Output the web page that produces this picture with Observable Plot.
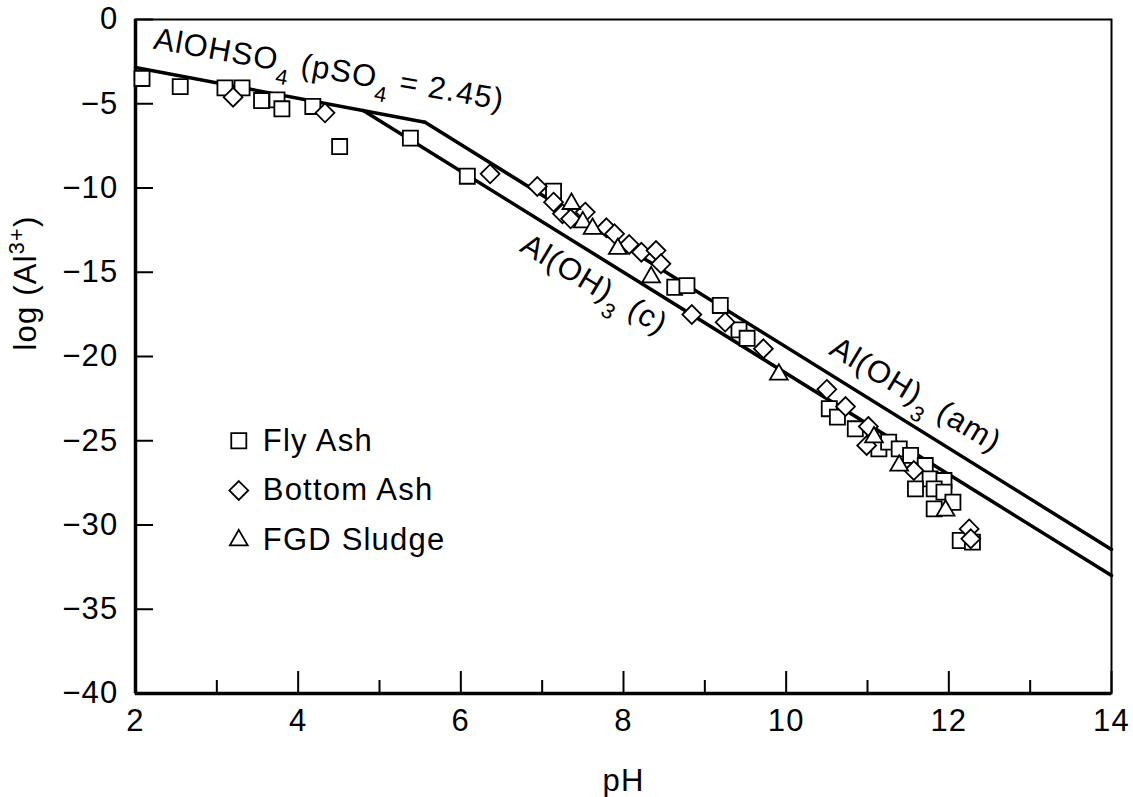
<!DOCTYPE html>
<html><head><meta charset="utf-8">
<script src="https://cdn.jsdelivr.net/npm/d3@7"></script>
<script src="https://cdn.jsdelivr.net/npm/@observablehq/plot@0.6"></script>
<style>
html,body{margin:0;padding:0;background:#fff;overflow:hidden;}
#chart svg text{letter-spacing:1.2px;}
</style></head><body><div id="chart"></div>
<script>
// ---- data ----
const flyAshPH  = [2.08, 2.55, 3.10, 3.31, 3.55, 3.74, 3.80, 4.18, 4.51, 5.38, 6.08, 7.14, 8.63, 8.78, 9.19, 9.42, 9.52, 10.53, 10.63, 10.85, 11.14, 11.26, 11.39, 11.53, 11.71, 11.77, 11.94, 11.59, 11.82, 11.94, 12.05, 11.82, 12.14, 12.29];
const flyAshLog = [-3.5, -3.98, -4.06, -4.06, -4.81, -4.77, -5.30, -5.16, -7.54, -7.04, -9.30, -10.19, -15.89, -15.79, -16.97, -18.42, -18.92, -23.1, -23.6, -24.29, -25.48, -25.08, -25.48, -25.87, -26.47, -27.26, -27.36, -27.86, -27.86, -28.05, -28.65, -29.04, -30.92, -31.02];
const bottomAshPH  = [3.20, 4.33, 6.36, 6.94, 7.14, 7.25, 7.53, 7.35, 7.79, 7.89, 8.07, 8.22, 8.40, 8.46, 8.84, 9.25, 9.72, 10.50, 10.73, 11.01, 10.99, 11.57, 12.25, 12.27];
const bottomAshLog = [-4.61, -5.54, -9.16, -9.91, -10.84, -11.53, -11.43, -11.83, -12.36, -12.72, -13.35, -13.81, -13.71, -14.50, -17.51, -17.96, -19.54, -21.95, -22.97, -24.15, -25.28, -26.77, -30.23, -30.82];
const fgdPH  = [7.36, 7.50, 7.62, 7.93, 8.34, 9.91, 11.08, 11.39, 11.96];
const fgdLog = [-10.94, -12.03, -12.42, -13.61, -15.29, -21.07, -24.79, -26.47, -29.14];

const phaseNames = ["AlOHSO4", "Al(OH)3 (am)", "Al(OH)3 (c)"];
const phasePH  = [[2, 5.56], [5.56, 14], [4.8, 14]];
const phaseLog = [[-2.85, -6.1], [-6.1, -31.45], [-5.4, -33.0]];

const curveLabels = ["AlOHSO_{4} (pSO_{4} = 2.45)", "Al(OH)_{3} (c)", "Al(OH)_{3} (am)"];
const curveLabelPH  = [2.21, 6.71, 10.51];
const curveLabelLog = [-1.72, -13.71, -19.82];
const curveLabelAngle = [10, 31, 31];

const legendNames = ["Fly Ash", "Bottom Ash", "FGD Sludge"];
const legendSymbols = ["square", "diamond2", "triangle2"];

const xTicksMajor = [2, 4, 6, 8, 10, 12, 14];
const xTicksMinor = [3, 5, 7, 9, 11, 13];
const yTicks = [0, -5, -10, -15, -20, -25, -30, -35, -40];

// ---- derived tables ----
const fly = flyAshPH.map((p, i) => ({pH: p, log: flyAshLog[i]}));
const bottom = bottomAshPH.map((p, i) => ({pH: p, log: bottomAshLog[i]}));
const fgd = fgdPH.map((p, i) => ({pH: p, log: fgdLog[i]}));
const lineRows = phaseNames.flatMap((n, i) => phasePH[i].map((p, j) => ({phase: n, pH: p, log: phaseLog[i][j]})));
const labelRows = curveLabels.map((t, i) => ({t, pH: curveLabelPH[i], log: curveLabelLog[i], a: curveLabelAngle[i]}));
const legendRows = legendNames.map((n, i) => ({n, s: legendSymbols[i], pH: 3.27, log: -25 - i * 2.95}));

const dotStyle = {stroke: "black", fill: "white", strokeWidth: 1.8, r: 8.5};

const chart = Plot.plot({
  width: 1133, height: 797,
  marginLeft: 135, marginRight: 22, marginTop: 19, marginBottom: 104,
  style: {fontFamily: "'Liberation Sans', Arial, sans-serif", fontSize: "31px", color: "black", background: "white"},
  x: {domain: [2, 14]},
  y: {domain: [-40, 0]},
  marks: [
    Plot.axisY(yTicks, {tickSize: -18, tickPadding: 35, strokeWidth: 2, label: null}),
    Plot.axisX(xTicksMajor, {tickSize: -22, tickPadding: 37, strokeWidth: 2, label: null}),
    Plot.axisX(xTicksMinor, {tickSize: -13, strokeWidth: 2, fill: "none", label: null}),
    Plot.frame({strokeWidth: 2}),
    Plot.ruleX([2], {strokeWidth: 3.5}),
    Plot.ruleY([-40], {strokeWidth: 3.5}),
    Plot.line(lineRows, {x: "pH", y: "log", z: "phase", stroke: "black", strokeWidth: 3.5}),
    Plot.dot(fly, {x: "pH", y: "log", symbol: "square", ...dotStyle}),
    Plot.dot(bottom, {x: "pH", y: "log", symbol: "diamond2", ...dotStyle}),
    Plot.dot(fgd, {x: "pH", y: "log", symbol: "triangle2", ...dotStyle}),
    Plot.text(labelRows, {x: "pH", y: "log", text: "t", rotate: "a", textAnchor: "start", lineAnchor: "bottom", fill: "black"}),
    Plot.dot(legendRows, {x: "pH", y: "log", symbol: "s", ...dotStyle}),
    Plot.text(legendRows, {x: "pH", y: "log", text: "n", dx: 24, textAnchor: "start", lineAnchor: "middle", fill: "black"}),
    Plot.text(["pH"], {frameAnchor: "bottom", dy: 97, lineAnchor: "bottom", fill: "black"}),
    Plot.text(["log (Al^{3+})"], {frameAnchor: "left", dx: -100, dy: -6, rotate: -90, lineAnchor: "bottom", fill: "black"})
  ]
});

// rich text: _{..} subscript, ^{..} superscript
const NS = "http://www.w3.org/2000/svg";
chart.querySelectorAll("text").forEach(el => {
  const targets = el.querySelector("tspan") ? el.querySelectorAll("tspan") : [el];
  targets.forEach(t => {
    const s = t.textContent;
    if (!/[_^]\{/.test(s)) return;
    t.textContent = "";
    const re = /([_^])\{([^}]*)\}/g;
    let last = 0, m;
    const fs = 31;
    while ((m = re.exec(s))) {
      const shift = m[1] === "_" ? 0.42 * fs : -0.38 * fs;
      if (m.index > last) t.appendChild(document.createTextNode(s.slice(last, m.index)));
      const sp = document.createElementNS(NS, "tspan");
      sp.setAttribute("dy", shift);
      sp.setAttribute("font-size", "70%");
      sp.textContent = m[2];
      t.appendChild(sp);
      last = re.lastIndex;
      const back = document.createElementNS(NS, "tspan");
      back.setAttribute("dy", -shift);
      back.textContent = s.slice(last, (re.lastIndex, (() => { const nx = s.slice(last).search(/[_^]\{/); return nx < 0 ? s.length : last + nx; })()));
      t.appendChild(back);
      last += back.textContent.length;
      re.lastIndex = last;
    }
    if (last < s.length) t.appendChild(document.createTextNode(s.slice(last)));
  });
});

document.getElementById("chart").appendChild(chart);
</script>
</body></html>
